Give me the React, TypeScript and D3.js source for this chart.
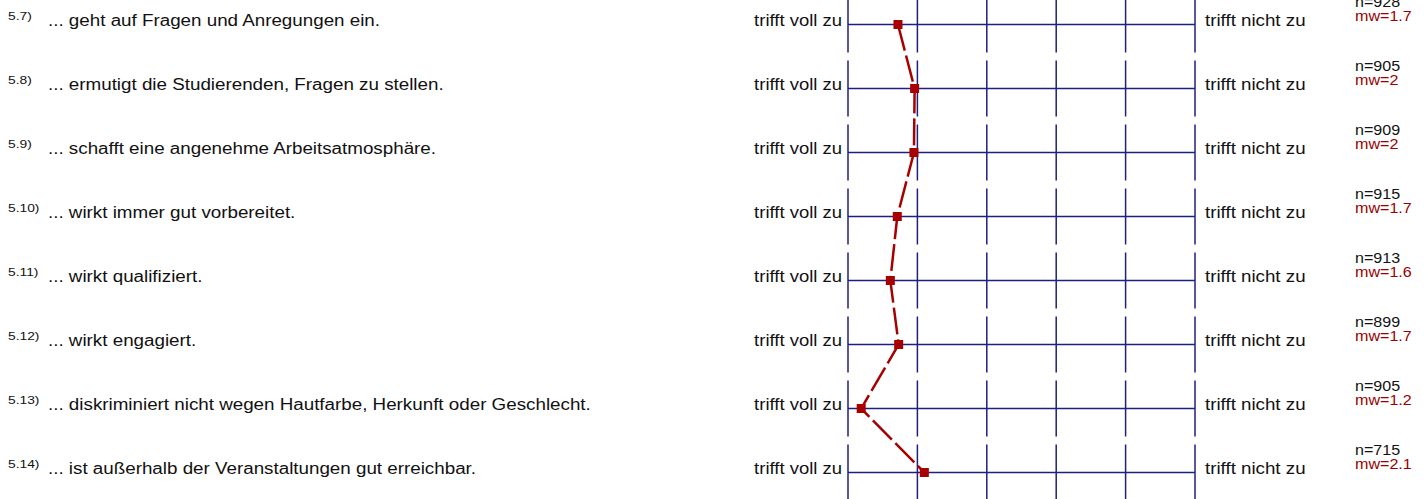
import React from "react";
import * as d3 from "d3";

const itemNumbers = ["5.7)", "5.8)", "5.9)", "5.10)", "5.11)", "5.12)", "5.13)", "5.14)"];
const itemLabels = [
  "... geht auf Fragen und Anregungen ein.",
  "... ermutigt die Studierenden, Fragen zu stellen.",
  "... schafft eine angenehme Arbeitsatmosphäre.",
  "... wirkt immer gut vorbereitet.",
  "... wirkt qualifiziert.",
  "... wirkt engagiert.",
  "... diskriminiert nicht wegen Hautfarbe, Herkunft oder Geschlecht.",
  "... ist außerhalb der Veranstaltungen gut erreichbar.",
];
const leftPole = "trifft voll zu";
const rightPole = "trifft nicht zu";
const nValues = [928, 905, 909, 915, 913, 899, 905, 715];
const meanValues = [1.72, 1.96, 1.95, 1.71, 1.61, 1.73, 1.19, 2.1];
const meanLabels = ["1.7", "2", "2", "1.7", "1.6", "1.7", "1.2", "2.1"];
const scaleTicks = [1, 2, 3, 4, 5, 6];

const W = 1426;
const H = 499;
const FONT = "'Liberation Sans', Arial, sans-serif";
const GRID = "#1f1f7f";
const RED = "#a80000";

export default function App() {
  const x = d3.scaleLinear().domain([1, 6]).range([848, 1195]);
  const y = d3.scaleLinear().domain([0, itemLabels.length - 1]).range([24.5, 472.5]);
  const line = d3
    .line<number>()
    .x((d) => x(d))
    .y((_, i) => y(i));

  const txt = (
    key: string,
    tx: number,
    ty: number,
    s: string,
    size: number,
    fill: string,
    anchor: "start" | "end" = "start",
    sx = 1.15
  ) => (
    <text
      key={key}
      transform={`translate(${tx},${ty}) scale(${sx},1)`}
      fontSize={size}
      fontFamily={FONT}
      fill={fill}
      textAnchor={anchor}
    >
      {s}
    </text>
  );

  return (
    <svg
      width={W}
      height={H}
      style={{ position: "absolute", left: 0, top: 0, background: "#fff" }}
    >
      {itemLabels.map((lab, i) => {
        const cy = y(i);
        return (
          <g key={i}>
            {txt("num", 8, cy - 5, itemNumbers[i], 11.5, "#111", "start", 1.2)}
            {txt("lab", 48, cy + 1.5, lab, 16, "#111", "start", 1.175)}
            {txt("lp", 842, cy + 1.5, leftPole, 16, "#111", "end", 1.155)}
            {txt("rp", 1205, cy + 1.5, rightPole, 16, "#111", "start", 1.17)}
            {txt("n", 1355, cy - 18, `n=${nValues[i]}`, 14, "#111")}
            {txt("mw", 1355, cy - 3.5, `mw=${meanLabels[i]}`, 14, "#990000")}
            <line x1={x(1)} x2={x(6)} y1={cy} y2={cy} stroke={GRID} strokeWidth={1.5} />
            {scaleTicks.map((t) => (
              <line
                key={t}
                x1={x(t)}
                x2={x(t)}
                y1={cy - 28}
                y2={cy + 28}
                stroke={GRID}
                strokeWidth={1.5}
              />
            ))}
          </g>
        );
      })}
      <path
        d={line(meanValues) || ""}
        fill="none"
        stroke={RED}
        strokeWidth={2.5}
        strokeDasharray="27,5"
      />
      {meanValues.map((v, i) => (
        <rect key={i} x={x(v) - 4.5} y={y(i) - 4.5} width={9} height={9} fill={RED} />
      ))}
    </svg>
  );
}
